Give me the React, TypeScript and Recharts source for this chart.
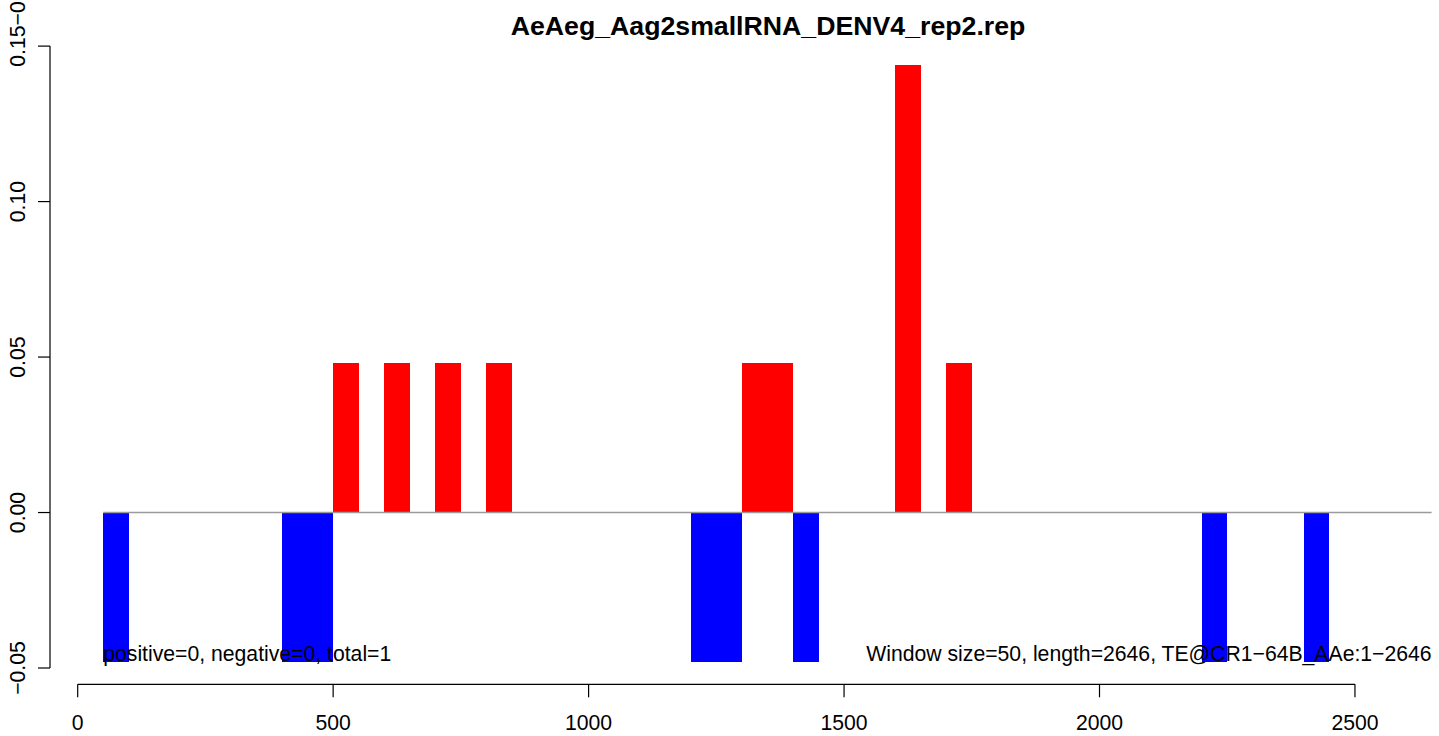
import React from 'react';
import { ComposedChart, Bar, Cell, XAxis, YAxis, ReferenceLine, ReferenceDot } from 'recharts';

// 50-bp windows along the TE, value = normalised small RNA count
const windowSize = 50;
const windowStarts = [50, 400, 450, 500, 600, 700, 800, 1200, 1250, 1300, 1350, 1400, 1600, 1700, 2200, 2400];
const windowValues = [-0.048, -0.048, -0.048, 0.048, 0.048, 0.048, 0.048, -0.048, -0.048, 0.048, 0.048, -0.048, 0.144, 0.048, -0.048, -0.048];

const xTicks = [0, 500, 1000, 1500, 2000, 2500];
const yTicks = [-0.05, 0, 0.05, 0.1, 0.15];
const yTickLabels = ['\u22120.05', '0.00', '0.05', '0.10', '0.15'];

const title = 'AeAeg_Aag2smallRNA_DENV4_rep2.rep';
const leftNote = 'positive=0, negative=0, total=1';
const rightNote = 'Window size=50, length=2646, TE@CR1\u221264B_AAe:1\u22122646';
const noteY = -0.0478;

const data = windowStarts.map((s, i) => ({ pos: s + windowSize / 2, value: windowValues[i] }));

const FONT = '"Liberation Sans", Arial, Helvetica, sans-serif';
const FS = 21.2;
const W = 1439;
const H = 736;
const xDomain: [number, number] = [-54.2, 2654.7];
const yDomain: [number, number] = [-0.05524, 0.15518];
const plotLeft = 50;
const plotRight = 1434;
// a hair under the band width, otherwise recharts shrinks bars to 90%
const barPx = (windowSize * (plotRight - plotLeft)) / (xDomain[1] - xDomain[0]) - 0.005;

const YTick = (props: any) => {
  const { x, y, payload } = props;
  const i = yTicks.findIndex((t) => Math.abs(t - payload.value) < 1e-9);
  const tx = x - 13;
  return (
    <g transform={`rotate(-90, ${tx}, ${y})`}>
      <text x={tx} y={y} textAnchor="middle" fontSize={FS} fontFamily={FONT} fill="#000">
        {yTickLabels[i]}
      </text>
      {i === yTicks.length - 1 && (
        <text x={tx + 20.7} y={y} textAnchor="start" fontSize={FS} fontFamily={FONT} fill="#000">
          {'\u22120'}
        </text>
      )}
    </g>
  );
};

const XTick = (props: any) => {
  const { x, y, payload } = props;
  return (
    <text x={x} y={y + 33} textAnchor="middle" fontSize={FS} fontFamily={FONT} fill="#000">
      {payload.value}
    </text>
  );
};

const note = (text: string, anchor: 'start' | 'end') => (p: any) => (
  <text x={p.viewBox.x} y={p.viewBox.y} textAnchor={anchor} fontSize={FS} fontFamily={FONT} fill="#000">
    {text}
  </text>
);

export default function App() {
  return (
    <div style={{ position: 'absolute', left: 0, top: 0, width: W, height: H, background: '#fff' }}>
      <div
        style={{
          position: 'absolute',
          left: 368,
          top: 11,
          width: 800,
          textAlign: 'center',
          fontFamily: FONT,
          fontWeight: 'bold',
          fontSize: 26.7,
          color: '#000',
          whiteSpace: 'nowrap',
        }}
      >
        {title}
      </div>
      <ComposedChart
        width={W}
        height={H}
        data={data}
        margin={{ top: 30, right: W - plotRight, left: 0, bottom: 0 }}
      >
        <XAxis
          dataKey="pos"
          type="number"
          domain={xDomain}
          allowDataOverflow
          ticks={xTicks}
          interval={0}
          height={51.7}
          axisLine={false}
          tickSize={13}
          tickMargin={0}
          tickLine={{ stroke: '#000', strokeWidth: 1.2 }}
          tick={<XTick />}
        />
        <YAxis
          type="number"
          domain={yDomain}
          allowDataOverflow
          ticks={yTicks}
          interval={0}
          width={plotLeft}
          axisLine={false}
          tickSize={12}
          tickMargin={0}
          tickLine={{ stroke: '#000', strokeWidth: 1.2 }}
          tick={<YTick />}
        />
        <ReferenceLine
          segment={[{ x: 50, y: 0 }, { x: 2650, y: 0 }]}
          stroke="#9a9a9a"
          strokeWidth={1.5}
          ifOverflow="visible"
        />
        <Bar dataKey="value" barSize={barPx} isAnimationActive={false}>
          {data.map((d, i) => (
            <Cell key={i} fill={d.value >= 0 ? '#FF0000' : '#0000FF'} shapeRendering="crispEdges" />
          ))}
        </Bar>
        <ReferenceLine
          segment={[{ x: xDomain[0], y: -0.05 }, { x: xDomain[0], y: 0.15 }]}
          stroke="#000"
          strokeWidth={1.2}
          ifOverflow="visible"
        />
        <ReferenceLine
          segment={[{ x: 0, y: yDomain[0] }, { x: 2500, y: yDomain[0] }]}
          stroke="#000"
          strokeWidth={1.2}
          ifOverflow="visible"
        />
        <ReferenceDot x={50} y={noteY} r={0} fill="none" stroke="none" ifOverflow="visible" label={note(leftNote, 'start')} />
        <ReferenceDot x={2650} y={noteY} r={0} fill="none" stroke="none" ifOverflow="visible" label={note(rightNote, 'end')} />
      </ComposedChart>
    </div>
  );
}
